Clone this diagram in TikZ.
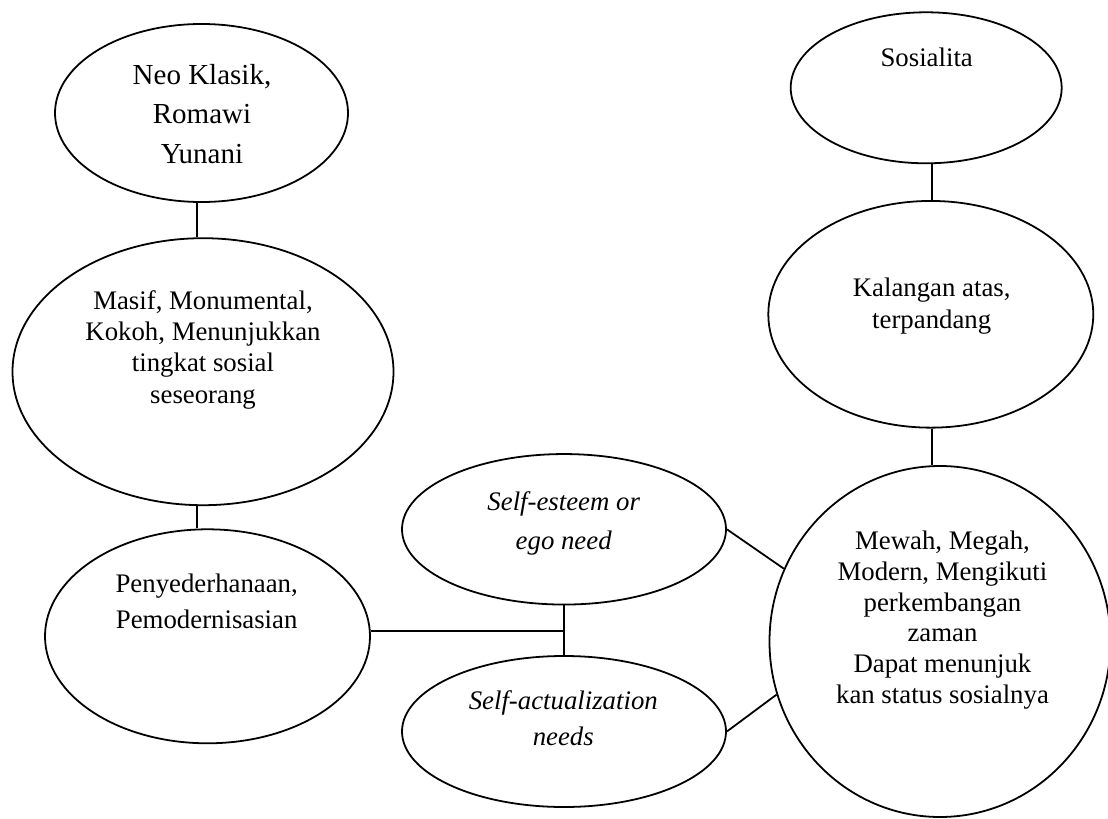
\documentclass[tikz,border=0pt]{standalone}
\usepackage{fontspec}
\setmainfont{Liberation Serif}
\usetikzlibrary{shapes.geometric}
\begin{document}
\begin{tikzpicture}[x=0.448pt,y=-0.448pt,
  oval/.style={draw, ellipse, line width=0.8pt, inner sep=0pt},
  sz/.style 2 args={minimum width=#1*0.448pt, minimum height=#2*0.448pt},
  txt/.style={align=center, inner sep=0pt, anchor=base},
  conn/.style={line width=0.8pt}]
\useasboundingbox (0,0) rectangle (1108,819);
% ellipses
\node[oval, sz={293}{178}] (neo) at (201.5,113) {};
\node[oval, sz={381}{267}] (masif) at (203,371.7) {};
\node[oval, sz={325}{214}] (peny) at (207.5,636.3) {};
\node[oval, sz={324}{150.5}] (esteem) at (564,529.3) {};
\node[oval, sz={324}{151}] (actual) at (564,731.5) {};
\node[oval, sz={271}{151}] (sos) at (926.2,87.8) {};
\node[oval, sz={325}{226.7}] (kal) at (930.8,314.3) {};
\node[oval, sz={341}{351}] (mewah) at (940,641.5) {};
% texts (anchor base = baseline of the last line)
\node[txt, font=\fontsize{13}{17.5}\selectfont] (neot) at (202,163) {Neo Klasik,\\Romawi\\Yunani};
\node[txt, font=\fontsize{12}{14}\selectfont] (masift) at (203,403) {Masif, Monumental,\\Kokoh, Menunjukkan\\tingkat sosial\\seseorang};
\node[txt, font=\fontsize{12}{15.9}\selectfont] (penyt) at (206.7,628.3) {Penyederhanaan,\\Pemodernisasian};
\node[txt, font=\fontsize{12}{17.3}\selectfont\itshape] (esteemt) at (563.7,549.3) {Self-esteem or\\ego need};
\node[txt, font=\fontsize{12}{15.7}\selectfont\itshape] (actualt) at (563.3,745) {Self-actualization\\needs};
\node[txt, font=\fontsize{12}{14}\selectfont] (sost) at (926.7,66.7) {Sosialita};
\node[txt, font=\fontsize{12}{14.2}\selectfont] (kalt) at (931.7,328.3) {Kalangan atas,\\terpandang};
\node[txt, font=\fontsize{12}{13.75}\selectfont] (mewaht) at (942.5,703.3) {Mewah, Megah,\\Modern, Mengikuti\\perkembangan\\zaman\\Dapat menunjuk\\kan status sosialnya};
% connector guides
\coordinate (cl) at (197,0);
\coordinate (cr) at (931.7,0);
\coordinate (j) at (564,631);
% connectors
\draw[conn] (neo.south -| cl) -- (masif.north -| cl);
\draw[conn] (masif.south -| cl) -- (peny.north -| cl);
\draw[conn] (peny.east |- j) -- (j);
\draw[conn] (esteem.south) -- (actual.north);
\draw[conn] (esteem.east) -- (mewah.155.2);
\draw[conn] (actual.east) -- (mewah.198.5);
\draw[conn] (sos.south -| cr) -- (kal.north -| cr);
\draw[conn] (kal.south -| cr) -- (mewah.north -| cr);
\end{tikzpicture}
\end{document}
